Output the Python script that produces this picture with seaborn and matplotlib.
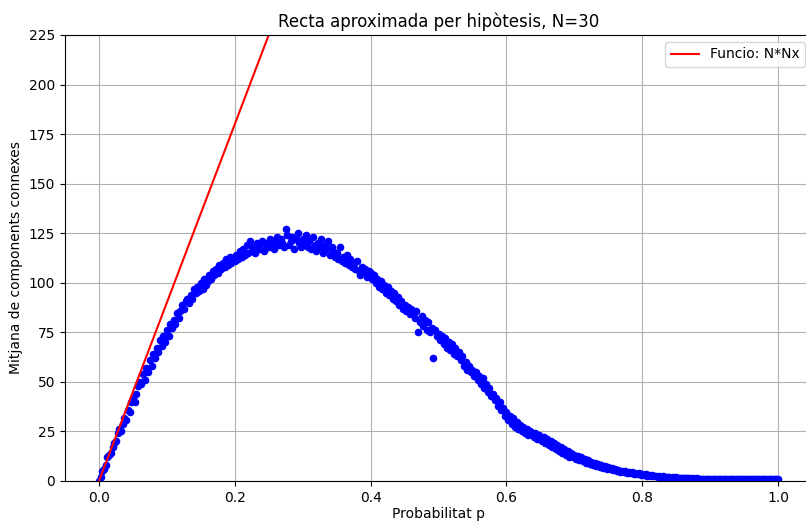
import numpy as np
import pandas as pd
import matplotlib
matplotlib.use("Agg")
import matplotlib.pyplot as plt
import seaborn as sns

# Probability grid (sampled p values)
p_values = np.linspace(0.0, 1.0, 401)

# Mean number of connected components (one row per 0.05 of p)
mean_components = [
    0, 2, 5, 6, 8, 12, 13, 14, 17, 19, 20, 24, 26, 25, 29, 32, 31, 36, 35, 40,
    42, 40, 44, 48, 50, 49, 54, 51, 57, 55, 61, 58, 64, 62, 67, 65, 71, 68, 73, 70,
    76, 73, 79, 77, 81, 79, 85, 82, 86, 89, 87, 91, 92, 90, 94, 92, 97, 95, 98, 96,
    100, 97, 102, 99, 101, 104, 102, 106, 104, 107, 105, 109, 107, 110, 108, 112, 109, 113, 110, 112,
    111, 114, 112, 116, 113, 117, 114, 119, 115, 121, 116, 118, 115, 120, 117, 119, 121, 116, 120, 118,
    118, 122, 120, 117, 121, 123, 119, 122, 120, 118, 127, 124, 119, 121, 123, 117, 122, 125, 120, 118,
    122, 119, 124, 118, 121, 117, 123, 119, 116, 120, 118, 122, 115, 119, 117, 121, 114, 118, 116, 113,
    115, 112, 118, 111, 113, 110, 114, 109, 112, 108, 110, 107, 111, 106, 104, 108, 105, 107, 103, 106,
    105, 102, 104, 100, 102, 98, 101, 97, 99, 95, 98, 94, 96, 92, 95, 91, 93, 89, 91, 87,
    89, 86, 88, 84, 87, 85, 82, 86, 75, 80, 83, 78, 81, 76, 80, 75, 77, 62, 76, 73,
    74, 71, 73, 69, 72, 67, 70, 66, 69, 64, 67, 63, 65, 61, 63, 58, 60, 56, 58, 55,
    56, 53, 55, 51, 53, 49, 52, 47, 49, 45, 47, 43, 44, 41, 42, 38, 40, 36, 37, 33,
    35, 31, 33, 29, 32, 27, 30, 26, 28, 25, 27, 24, 26, 23, 25, 24, 22, 24, 21, 23,
    22, 20, 22, 19, 21, 18, 20, 17, 19, 16, 18, 15, 17, 14, 16, 13, 15, 12, 14, 12,
    13, 11, 12.5, 10.5, 12, 10, 11, 9, 10.5, 8.5, 9.5, 8, 9, 7.5, 8.5, 7, 8, 6.5, 7.5, 6,
    7, 6, 6.5, 5.5, 6, 5, 5.5, 4.5, 5.2, 4.3, 4.8, 4, 4.6, 3.8, 4.3, 3.6, 4.1, 3.4, 3.8, 3.2,
    3.6, 3.0, 3.3, 2.7, 3.1, 2.6, 2.8, 2.4, 2.6, 2.2, 2.4, 2.0, 2.3, 1.9, 2.1, 1.8, 2.0, 1.7, 1.9, 1.6,
    1.8, 1.5, 1.7, 1.4, 1.6, 1.4, 1.5, 1.3, 1.4, 1.2, 1.35, 1.2, 1.3, 1.15, 1.25, 1.1, 1.2, 1.1, 1.15, 1.05,
    1.1, 1.0, 1.1, 1.05, 1.0, 1.05, 1.0, 1.1, 1.0, 1.0, 1.05, 1.0, 1.0, 1.0, 1.05, 1.0, 1.0, 1.0, 1.0, 1.0,
    1.0, 1.0, 1.0, 1.0, 1.0, 1.0, 1.0, 1.0, 1.0, 1.0, 1.0, 1.0, 1.0, 1.0, 1.0, 1.0, 1.0, 1.0, 1.0, 1.0,
    1.0,
]

# Reference line y = N*N*x with N = 30
line_x = [0.0, 1.0]
line_y = [0.0, 900.0]

title = "Recta aproximada per hipòtesis, N=30"
xlabel = "Probabilitat p"
ylabel = "Mitjana de components connexes"
line_label = "Funcio: N*Nx"
y_ticks = [0, 25, 50, 75, 100, 125, 150, 175, 200, 225]

df_points = pd.DataFrame({"p": p_values, "mean": mean_components})
df_line = pd.DataFrame({"p": line_x, "y": line_y})

fig = plt.figure(figsize=(8.06, 5.21), dpi=100)
ax = fig.add_axes([65 / 806, 40 / 521, 747 / 806, 446 / 521])

sns.scatterplot(data=df_points, x="p", y="mean", color="blue", s=20,
                edgecolor="blue", linewidth=1.0, ax=ax, zorder=1)
sns.lineplot(data=df_line, x="p", y="y", color="red", label=line_label,
             ax=ax, zorder=2, linewidth=1.5)

ax.set_xlim(-0.05, 1.05)
ax.set_ylim(0, 225)
ax.set_yticks(y_ticks)
ax.set_xticks([0.0, 0.2, 0.4, 0.6, 0.8, 1.0])
ax.grid(True)
ax.set_axisbelow(True)
ax.set_title(title, fontsize=12)
ax.set_xlabel(xlabel, labelpad=1.5)
ax.set_ylabel(ylabel)
ax.legend(loc="upper right")

fig.savefig("out.png", dpi=100)
